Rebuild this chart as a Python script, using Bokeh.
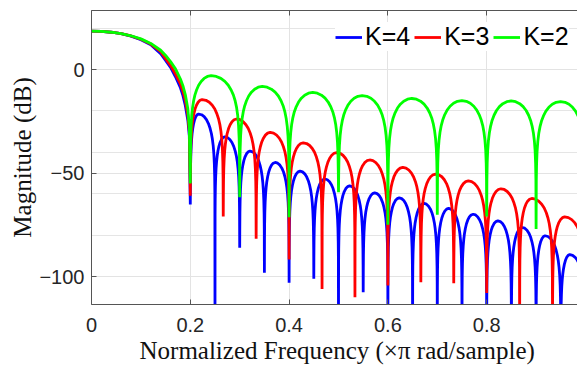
from bokeh.plotting import figure
from bokeh.models import (FixedTicker, LinearAxis, Legend, LegendItem, Range1d, Title, Grid,
                          CustomLabelingPolicy)
from bokeh.embed import file_html
from bokeh.resources import INLINE

# ---------------- data ----------------
# main lobe (0 .. first null at 0.2), dB
MAIN_FREQ = [0.0, 0.02, 0.04, 0.06, 0.08, 0.10, 0.12, 0.14, 0.15, 0.16, 0.17, 0.18, 0.185, 0.19, 0.195, 0.198]
MAIN_K2 = [18.5, 18.4, 18.0, 17.3, 16.3, 14.8, 12.6, 9.3, 6.8, 3.8, 0.3, -4.6, -7.8, -12.2, -19.0, -28.0]
MAIN_K3 = [18.5, 18.4, 18.0, 17.3, 16.2, 14.6, 12.3, 8.6, 5.2, 2.0, -2.2, -7.0, -10.5, -15.0, -22.0, -30.0]
MAIN_K4 = [18.5, 18.4, 18.0, 17.3, 16.1, 14.4, 12.0, 7.6, 4.4, 1.0, -3.5, -8.8, -12.5, -17.5, -24.5, -32.0]

# K=2 (green): null frequencies, depth drawn at each null, sidelobe peak levels
NULL_FREQ_K2 = [0.2, 0.3, 0.4, 0.5, 0.6, 0.7, 0.8, 0.9, 1.0]
NULL_DB_K2 = [-55.0, -61.7, -71.3, -59.3, -75.0, -70.2, -71.0, -77.0, -80.0]
PEAK_DB_K2 = [-3.0, -8.2, -11.1, -12.6, -14.0, -15.0, -15.2, -15.5]

# K=3 (red)
NULL_FREQ_K3 = [0.2, 0.2667, 0.3333, 0.4, 0.4667, 0.5333, 0.6, 0.6667, 0.7333, 0.8, 0.8667, 0.9333, 1.0]
NULL_DB_K3 = [-61.0, -71.0, -81.8, -91.8, -106.0, -110.0, -104.3, -102.7, -103.2, -108.0, -125.0, -125.0, -125.0]
PEAK_DB_K3 = [-14.5, -23.9, -30.4, -35.4, -40.1, -43.7, -47.3, -50.5, -53.8, -57.6, -62.3, -71.2]

# K=4 (blue)
NULL_FREQ_K4 = [0.2, 0.25, 0.3, 0.35, 0.4, 0.45, 0.5, 0.55, 0.6, 0.65, 0.7, 0.75, 0.8, 0.85, 0.9, 0.95, 1.0]
NULL_DB_K4 = [-65.2, -125.0, -86.1, -98.2, -103.0, -101.1, -125.0, -107.6, -125.0, -125.0, -125.0,
              -125.0, -125.0, -125.0, -125.0, -125.0, -125.0]
PEAK_DB_K4 = [-21.5, -32.5, -39.4, -44.9, -49.1, -52.9, -56.2, -59.6, -62.0, -64.7, -67.1, -69.9,
              -73.1, -76.3, -80.3, -89.4]

# typical sidelobe arch (fraction of lobe width -> dB below lobe top), half lobe
ARCH_T = [0.004, 0.01, 0.02, 0.035, 0.055, 0.08, 0.11, 0.15, 0.2, 0.26, 0.33, 0.41, 0.5]
ARCH_DB = [-38.0, -30.1, -24.0, -19.2, -15.3, -12.1, -9.4, -6.9, -4.6, -2.75, -1.3, -0.35, 0.0]

X_TICKS = [0, 0.2, 0.4, 0.6, 0.8]
X_LABELS = ["0", "0.2", "0.4", "0.6", "0.8"]
Y_TICKS = [0, -50, -100]
Y_LABELS = ["0", "\u221250", "\u2212100"]

SERIES = ["K=4", "K=3", "K=2"]
COLORS = ["#0000ff", "#ff0000", "#00ff00"]


def build(main_f, main_db, nulls, null_db, peaks):
    xs = list(main_f)
    ys = list(main_db)
    n = len(peaks)
    for i in range(n):
        f0, f1 = nulls[i], nulls[i + 1]
        w = f1 - f0
        xs.append(f0)
        ys.append(null_db[i])
        drop = peaks[i] - peaks[i + 1] if i + 1 < n else peaks[i - 1] - peaks[i]
        tp = min(0.5, max(0.3, 0.5 - 0.015 * drop))
        for t, a in zip(ARCH_T, ARCH_DB):
            xs.append(f0 + w * (t / 0.5) * tp)
            ys.append(peaks[i] + a)
        for t, a in zip(reversed(ARCH_T[:-1]), reversed(ARCH_DB[:-1])):
            xs.append(f1 - w * (t / 0.5) * (1 - tp))
            ys.append(peaks[i] + a)
    xs.append(nulls[-1])
    ys.append(null_db[-1])
    return xs, ys


curves = [
    build(MAIN_FREQ, MAIN_K4, NULL_FREQ_K4, NULL_DB_K4, PEAK_DB_K4),
    build(MAIN_FREQ, MAIN_K3, NULL_FREQ_K3, NULL_DB_K3, PEAK_DB_K3),
    build(MAIN_FREQ, MAIN_K2, NULL_FREQ_K2, NULL_DB_K2, PEAK_DB_K2),
]

# ---------------- figure ----------------
W, H = 577, 369
ML, MT, MB = 91, 10, 65
X_END = (W - ML) / 494.0

p = figure(width=W, height=H, output_backend="svg", toolbar_location=None,
           x_range=Range1d(0, X_END), y_range=Range1d(-113.5, 28.5),
           min_border_left=ML, min_border_right=0, min_border_top=MT, min_border_bottom=MB,
           x_axis_location=None, y_axis_location=None)
p.outline_line_color = None
p.background_fill_color = "white"
p.border_fill_color = "white"

AX_COLOR = "#555555"
TXT = "#262626"

xt = FixedTicker(ticks=X_TICKS)
yt = FixedTicker(ticks=Y_TICKS)

xax = LinearAxis(ticker=xt)
xax.major_label_overrides = {t: s for t, s in zip(X_TICKS, X_LABELS)}
yax = LinearAxis(ticker=yt)
yax.major_label_overrides = {t: s for t, s in zip(Y_TICKS, Y_LABELS)}
tax = LinearAxis(ticker=xt)

for ax in (xax, yax, tax):
    ax.axis_line_color = AX_COLOR
    ax.axis_line_width = 1
    ax.major_tick_line_color = AX_COLOR
    ax.major_tick_in = 5
    ax.major_tick_out = 0
    ax.minor_tick_line_color = None
    ax.major_label_text_font = "Liberation Sans"
    ax.major_label_text_font_size = "20px"
    ax.major_label_text_color = TXT

xax.major_label_standoff = 13
yax.major_label_standoff = 7
yax.axis_label = "Magnitude (dB)"
yax.axis_label_text_font = "Liberation Serif"
yax.axis_label_text_font_size = "25px"
yax.axis_label_text_font_style = "normal"
yax.axis_label_text_color = "#111111"
yax.axis_label_standoff = 0
# top box edge with inward ticks only (no labels)
tax.major_label_policy = CustomLabelingPolicy(code="for (const i of indices) indices.unset(i); return indices")
tax.major_label_text_font_size = "1px"
tax.major_label_standoff = 0

p.add_layout(xax, "below")
p.add_layout(yax, "left")
p.add_layout(tax, "above")

xlabel = Title(text="Normalized Frequency (\u00d7\u03c0 rad/sample)", align="left", offset=48,
               text_font="Liberation Serif", text_font_size="25px", text_font_style="normal",
               text_color="#111111", standoff=1)
p.add_layout(xlabel, "below")

p.add_layout(Grid(dimension=0, ticker=xt, grid_line_color="#e3e3e3", grid_line_width=1))
p.add_layout(Grid(dimension=1, ticker=yt, grid_line_color="#e3e3e3", grid_line_width=1))

renderers = []
for (xs, ys), c in zip(curves, COLORS):
    r = p.line(xs, ys, line_color=c, line_width=2.8)
    renderers.append(r)

legend = Legend(items=[LegendItem(label=s, renderers=[r]) for s, r in zip(SERIES, renderers)],
                orientation="horizontal", location=(244, 253),
                label_text_font="Liberation Sans", label_text_font_size="25px",
                label_text_color="#000000", glyph_width=27, glyph_height=20,
                label_standoff=3, spacing=4, padding=3, margin=0,
                border_line_color=None, background_fill_color="white", background_fill_alpha=1.0)
p.add_layout(legend, "center")

open("out.html", "w").write(file_html(p, INLINE))
